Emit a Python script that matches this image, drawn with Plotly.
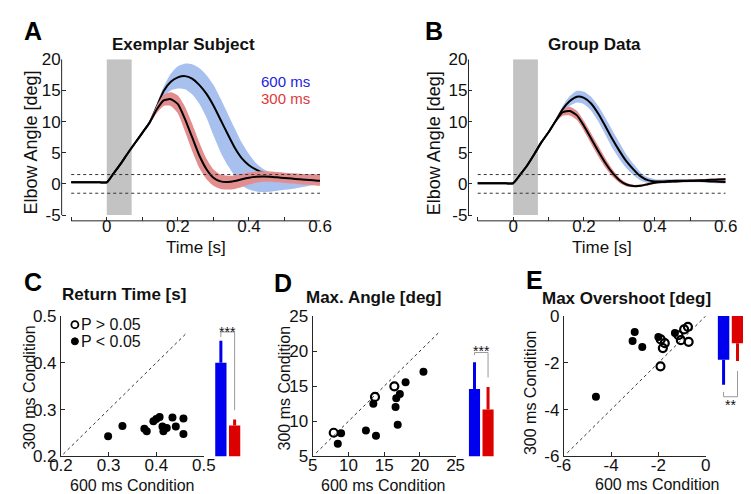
import plotly.graph_objects as go

W, H = 751, 494
FONT = "Liberation Sans, Arial, Helvetica, sans-serif"
INK = "#111111"
AXIS = "#262626"
BLUE_BAND = "#a8c0ee"
RED_BAND = "#e38e8e"
BLUE = "#0000ee"
RED = "#dd0000"
BLUE_TXT = "#2323e0"
RED_TXT = "#dc3a3a"
BRACKET = "#9a9a9a"

# ---------------- Panel A / B: elbow angle time courses ----------------
time_s = [-0.10, -0.08, -0.06, -0.04, -0.02, 0.00, 0.02, 0.04, 0.06, 0.08,
          0.10, 0.12, 0.14, 0.16, 0.18, 0.20, 0.22, 0.24, 0.26, 0.28,
          0.30, 0.32, 0.34, 0.36, 0.38, 0.40, 0.42, 0.44, 0.46, 0.48,
          0.50, 0.52, 0.54, 0.56, 0.58, 0.60]

# Exemplar subject, 600 ms condition
a600_mean = [0.25, 0.25, 0.25, 0.25, 0.25, 0.25, 1.75, 3.3, 5.0, 6.6,
             8.2, 9.8, 12.3, 14.9, 16.4, 17.1, 17.3, 16.9, 15.9, 14.5,
             12.6, 10.3, 8.0, 5.8, 4.1, 3.0, 2.3, 1.8, 1.5, 1.3,
             1.1, 1.0, 0.9, 0.8, 0.7, 0.6]
a600_upper = [0.25, 0.25, 0.25, 0.25, 0.25, 0.25, 1.75, 3.3, 5.0, 6.6,
              8.2, 10.0, 12.8, 15.6, 17.7, 18.9, 19.3, 19.2, 18.6, 17.5,
              15.9, 13.7, 11.3, 8.9, 6.6, 4.8, 3.3, 2.4, 1.9, 1.6,
              1.5, 1.5, 1.5, 1.5, 1.5, 1.5]
a600_lower = [0.25, 0.25, 0.25, 0.25, 0.25, 0.25, 1.75, 3.3, 5.0, 6.6,
              8.2, 9.6, 11.8, 14.0, 15.0, 15.3, 15.2, 14.4, 12.9, 10.7,
              7.8, 5.1, 3.0, 1.3, -0.2, -0.9, -1.2, -1.3, -1.25, -1.1,
              -0.95, -0.8, -0.6, -0.4, -0.2, -0.1]
# Exemplar subject, 300 ms condition
a300_mean = [0.25, 0.25, 0.25, 0.25, 0.25, 0.25, 1.75, 3.3, 5.0, 6.6,
             8.2, 9.8, 11.9, 13.4, 13.6, 12.8, 10.4, 7.5, 4.6, 2.4,
             1.0, 0.4, 0.3, 0.45, 0.75, 1.0, 1.15, 1.2, 1.15, 1.05,
             0.95, 0.85, 0.75, 0.65, 0.6, 0.5]
a300_upper = [0.25, 0.25, 0.25, 0.25, 0.25, 0.25, 1.75, 3.3, 5.0, 6.6,
              8.2, 10.0, 12.5, 14.3, 14.7, 14.2, 12.4, 9.7, 6.7, 4.1,
              2.3, 1.5, 1.3, 1.4, 1.6, 1.85, 2.0, 2.05, 2.0, 1.9,
              1.8, 1.7, 1.65, 1.6, 1.55, 1.5]
a300_lower = [0.25, 0.25, 0.25, 0.25, 0.25, 0.25, 1.75, 3.3, 5.0, 6.6,
              8.2, 9.6, 11.3, 12.5, 12.5, 11.3, 8.4, 5.3, 2.6, 0.8,
              -0.3, -0.8, -0.9, -0.8, -0.5, -0.1, 0.2, 0.35, 0.35, 0.25,
              0.15, 0.05, -0.05, -0.15, -0.2, -0.3]

# Group data
b600_mean = [0.1, 0.1, 0.1, 0.1, 0.1, 0.1, 1.5, 3.0, 4.8, 6.7,
             8.3, 10.1, 12.0, 13.3, 14.0, 13.8, 12.9, 11.3, 9.3, 7.2,
             5.3, 3.6, 2.3, 1.2, 0.6, 0.4, 0.4, 0.45, 0.5, 0.5,
             0.5, 0.5, 0.45, 0.4, 0.35, 0.3]
b600_sd = [0, 0, 0, 0, 0, 0, 0, 0, 0, 0,
           0, 0.2, 0.5, 0.8, 0.95, 1.0, 1.1, 1.25, 1.35, 1.4,
           1.3, 1.1, 0.9, 0.65, 0.45, 0.35, 0.3, 0.28, 0.26, 0.25,
           0.25, 0.25, 0.25, 0.25, 0.25, 0.25]
b300_mean = [0.1, 0.1, 0.1, 0.1, 0.1, 0.1, 1.5, 3.0, 4.8, 6.7,
             8.3, 10.1, 11.5, 11.7, 11.0, 9.3, 7.3, 5.3, 3.4, 1.8,
             0.6, -0.1, -0.35, -0.3, -0.05, 0.2, 0.3, 0.35, 0.4, 0.45,
             0.5, 0.55, 0.6, 0.65, 0.7, 0.75]
b300_sd = [0, 0, 0, 0, 0, 0, 0, 0, 0, 0,
           0, 0.2, 0.55, 0.7, 0.75, 0.8, 0.85, 0.85, 0.75, 0.6,
           0.4, 0.3, 0.2, 0.2, 0.2, 0.2, 0.2, 0.2, 0.2, 0.2,
           0.2, 0.2, 0.2, 0.2, 0.2, 0.2]

stim_window = [0.0, 0.07]
threshold = 1.5
t_ticks = [-0.1, 0.0, 0.1, 0.2, 0.3, 0.4, 0.5, 0.6]
t_labels = ["", "0", "", "0.2", "", "0.4", "", "0.6"]
angle_ticks = [-5, 0, 5, 10, 15, 20]
angle_labels = ["-5", "0", "5", "10", "15", "20"]

# ---------------- Panel C: return time ----------------
c_600 = [0.299, 0.329, 0.375, 0.380, 0.394, 0.400, 0.407, 0.413, 0.415, 0.422, 0.434, 0.441, 0.457, 0.457]
c_300 = [0.243, 0.265, 0.259, 0.254, 0.275, 0.280, 0.284, 0.264, 0.254, 0.261, 0.283, 0.264, 0.281, 0.248]
c_sig = [1, 1, 1, 1, 1, 1, 1, 1, 1, 1, 1, 1, 1, 1]
c_bar_mean = [0.400, 0.266]
c_bar_err = [0.047, 0.013]
c_ticks = [0.2, 0.3, 0.4, 0.5]
c_labels = ["0.2", "0.3", "0.4", "0.5"]

# ---------------- Panel D: max angle ----------------
d_600 = [7.95, 8.98, 8.52, 12.45, 13.86, 13.72, 13.49, 16.9, 16.43, 16.6, 16.7, 17.2, 18.0, 20.5]
d_300 = [8.37, 8.3, 6.82, 8.69, 7.93, 13.47, 12.52, 9.5, 14.98, 12.05, 13.28, 13.88, 15.57, 17.05]
d_sig = [0, 1, 1, 1, 1, 0, 1, 1, 0, 1, 1, 1, 1, 1]
d_bar_mean = [14.6, 11.7]
d_bar_err = [3.8, 3.2]
d_ticks = [5, 10, 15, 20, 25]
d_labels = ["5", "10", "15", "20", "25"]

# ---------------- Panel E: max overshoot ----------------
e_600 = [-4.64, -3.0, -3.09, -2.68, -2.0, -1.3, -1.9, -1.73, -1.81, -1.91, -1.15, -1.05, -0.91, -0.75, -0.72]
e_300 = [-3.45, -0.68, -1.07, -1.32, -0.9, -0.72, -1.0, -1.16, -1.37, -2.15, -0.82, -1.03, -0.57, -0.46, -1.1]
e_sig = [1, 1, 1, 1, 1, 1, 0, 0, 0, 0, 0, 0, 0, 0, 0]
e_bar_mean = [-1.87, -1.16]
e_bar_err = [1.07, 0.76]
e_ticks = [-6, -4, -2, 0]
e_labels = ["-6", "-4", "-2", "0"]


def px_x(x):
    return x / W


def px_y(y):
    return 1 - y / H


fig = go.Figure()
SPL = dict(shape="spline", smoothing=0.6)


def add_band(lo, hi, color, xa, ya):
    fig.add_trace(go.Scatter(x=time_s, y=lo, mode="lines", line=dict(width=0, **SPL),
                             hoverinfo="skip", xaxis=xa, yaxis=ya))
    fig.add_trace(go.Scatter(x=time_s, y=hi, mode="lines", line=dict(width=0, **SPL),
                             fill="tonexty", fillcolor=color, hoverinfo="skip", xaxis=xa, yaxis=ya))


def add_mean(y, xa, ya):
    fig.add_trace(go.Scatter(x=time_s, y=y, mode="lines", line=dict(color="black", width=2, **SPL),
                             xaxis=xa, yaxis=ya))


# Panel A (600 ms mean drawn before the red band, so the band covers its tail)
add_band(a600_lower, a600_upper, BLUE_BAND, "x", "y")
add_mean(a600_mean, "x", "y")
add_band(a300_lower, a300_upper, RED_BAND, "x", "y")
add_mean(a300_mean, "x", "y")

# Panel B
add_band([m - s for m, s in zip(b600_mean, b600_sd)], [m + s for m, s in zip(b600_mean, b600_sd)], BLUE_BAND, "x2", "y2")
add_band([m - s for m, s in zip(b300_mean, b300_sd)], [m + s for m, s in zip(b300_mean, b300_sd)], RED_BAND, "x2", "y2")
add_mean(b600_mean, "x2", "y2")
add_mean(b300_mean, "x2", "y2")


def add_scatter(xs, ys, sig, xa, ya):
    fx = [x for x, s in zip(xs, sig) if s]
    fy = [y for y, s in zip(ys, sig) if s]
    ox = [x for x, s in zip(xs, sig) if not s]
    oy = [y for y, s in zip(ys, sig) if not s]
    fig.add_trace(go.Scatter(x=fx, y=fy, mode="markers", marker=dict(symbol="circle", size=8, color="black"),
                             xaxis=xa, yaxis=ya))
    if ox:
        fig.add_trace(go.Scatter(x=ox, y=oy, mode="markers",
                                 marker=dict(symbol="circle-open", size=8, color="black", line=dict(width=2.2, color="black")),
                                 xaxis=xa, yaxis=ya))


add_scatter(c_600, c_300, c_sig, "x3", "y3")
add_scatter(d_600, d_300, d_sig, "x5", "y5")
add_scatter(e_600, e_300, e_sig, "x7", "y7")


def add_bars(means, errs, base, xa, ya, down=False):
    for i, (m, e, col) in enumerate(zip(means, errs, [BLUE, RED])):
        err = dict(type="data", symmetric=False, color=col, thickness=3, width=0)
        if down:
            err.update(array=[0], arrayminus=[e])
        else:
            err.update(array=[e], arrayminus=[0])
        fig.add_trace(go.Bar(x=[i], y=[m - base], base=base, width=0.82,
                             marker=dict(color=col, line=dict(width=0)), error_y=err,
                             xaxis=xa, yaxis=ya))


add_bars(c_bar_mean, c_bar_err, c_ticks[0], "x4", "y4")
add_bars(d_bar_mean, d_bar_err, d_ticks[0], "x6", "y6")
add_bars(e_bar_mean, e_bar_err, 0, "x8", "y8", down=True)

# ---------------- layout ----------------
base_ax = dict(showgrid=False, zeroline=False, ticks="inside", ticklen=4, tickwidth=1,
               tickcolor=AXIS, linecolor=AXIS, linewidth=1, fixedrange=True,
               tickfont=dict(family=FONT, size=17, color=INK))

top_y = [px_y(212), px_y(44)]
row2_y = [px_y(457), px_y(311)]
SO = -7

layout_axes = dict(
    xaxis=dict(base_ax, domain=[px_x(43), px_x(310)], range=[-0.127, 0.6], tickvals=t_ticks,
               ticktext=t_labels, showline=False, anchor="y", ticklabelstandoff=SO),
    yaxis=dict(base_ax, domain=top_y, range=[-5.93, 20], tickvals=angle_ticks, ticktext=angle_labels,
               showline=False, anchor="x"),
    xaxis2=dict(base_ax, domain=[px_x(463.3), px_x(729)], range=[-0.126, 0.6], tickvals=t_ticks,
                ticktext=t_labels, showline=False, anchor="y2", ticklabelstandoff=SO),
    yaxis2=dict(base_ax, domain=top_y, range=[-5.93, 20], tickvals=angle_ticks, ticktext=angle_labels,
                showline=False, anchor="x2"),
    xaxis3=dict(base_ax, domain=[px_x(42.3), px_x(190)], range=[0.2, 0.5], tickvals=c_ticks,
                ticktext=c_labels, showline=True, anchor="y3", ticklabelstandoff=SO),
    yaxis3=dict(base_ax, domain=row2_y, range=[0.2, 0.5], tickvals=c_ticks, ticktext=c_labels,
                showline=True, anchor="x3"),
    xaxis4=dict(domain=[px_x(200.4), px_x(228.8)], range=[-0.5, 1.5], visible=False, anchor="y4", fixedrange=True),
    yaxis4=dict(domain=row2_y, range=[0.2, 0.5], visible=False, anchor="x4", fixedrange=True),
    xaxis5=dict(base_ax, domain=[px_x(302.3), px_x(450)], range=[5, 25], tickvals=d_ticks,
                ticktext=d_labels, showline=True, anchor="y5", ticklabelstandoff=SO),
    yaxis5=dict(base_ax, domain=row2_y, range=[5, 25], tickvals=d_ticks, ticktext=d_labels,
                showline=True, anchor="x5"),
    xaxis6=dict(domain=[px_x(462.5), px_x(490.5)], range=[-0.5, 1.5], visible=False, anchor="y6", fixedrange=True),
    yaxis6=dict(domain=row2_y, range=[5, 25], visible=False, anchor="x6", fixedrange=True),
    xaxis7=dict(base_ax, domain=[px_x(561.7), px_x(708.3)], range=[-6, 0], tickvals=e_ticks,
                ticktext=e_labels, showline=True, anchor="y7", ticklabelstandoff=SO),
    yaxis7=dict(base_ax, domain=row2_y, range=[-6, 0], tickvals=e_ticks, ticktext=e_labels,
                showline=True, anchor="x7"),
    xaxis8=dict(domain=[px_x(719.6), px_x(748.4)], range=[-0.5, 1.5], visible=False, anchor="y8", fixedrange=True),
    yaxis8=dict(domain=row2_y, range=[-6, 0], visible=False, anchor="x8", fixedrange=True),
)

shapes = []


def seg(x0, y0, x1, y1, xref, yref, color=AXIS, width=1, dash="solid", layer="above"):
    shapes.append(dict(type="line", x0=x0, y0=y0, x1=x1, y1=y1, xref=xref, yref=yref,
                       line=dict(color=color, width=width, dash=dash), layer=layer))


for xa, ya in [("x", "y"), ("x2", "y2")]:
    shapes.append(dict(type="rect", xref=xa, yref=ya, x0=stim_window[0], x1=stim_window[1],
                       y0=angle_ticks[0], y1=angle_ticks[-1], fillcolor="#c3c3c3",
                       line=dict(width=0), layer="below"))
    for lvl in (threshold, -threshold):
        seg(t_ticks[0], lvl, t_ticks[-1], lvl, xa, ya, color="#333333", width=1, dash="dot")
    seg(t_ticks[0], 0, t_ticks[-1], 0, xa, ya + " domain")
    seg(0, angle_ticks[0], 0, angle_ticks[-1], xa + " domain", ya)

# identity lines
seg(0.205, 0.205, 0.465, 0.465, "x3", "y3", color="#333333", dash="3px,3px", layer="below")
seg(5.5, 5.5, 22.8, 22.8, "x5", "y5", color="#333333", dash="3px,3px", layer="below")
seg(-5.85, -5.85, 0, 0, "x7", "y7", color="#333333", dash="3px,3px", layer="below")

# significance brackets
seg(0, 0.466, 1, 0.466, "x4", "y4", color=BRACKET)
seg(0, 0.466, 0, 0.455, "x4", "y4", color=BRACKET)
seg(1, 0.466, 1, 0.299, "x4", "y4", color=BRACKET)
seg(0, 19.8, 1, 19.8, "x6", "y6", color=BRACKET)
seg(0, 19.8, 0, 19.45, "x6", "y6", color=BRACKET)
seg(1, 19.8, 1, 16.25, "x6", "y6", color=BRACKET)
seg(0, -3.45, 1, -3.45, "x8", "y8", color=BRACKET)
seg(0, -3.45, 0, -3.24, "x8", "y8", color=BRACKET)
seg(1, -3.45, 1, -2.35, "x8", "y8", color=BRACKET)

# legend glyphs in panel C
for cy, fill, lw in [(320, "white", 1.8), (337.3, "black", 1)]:
    shapes.append(dict(type="circle", xref="paper", yref="paper", xsizemode="pixel", ysizemode="pixel",
                       xanchor=px_x(56.7), yanchor=px_y(cy), x0=-3.5, x1=3.5, y0=-3.5, y1=3.5,
                       fillcolor=fill, line=dict(color="black", width=lw), layer="above"))

annotations = []


def ann(text, x, y, size=16, bold=False, color=INK, xanchor="center", yanchor="middle", angle=0):
    annotations.append(dict(text=f"<b>{text}</b>" if bold else text, x=px_x(x), y=px_y(y),
                            xref="paper", yref="paper", showarrow=False,
                            font=dict(family=FONT, size=size, color=color),
                            xanchor=xanchor, yanchor=yanchor, textangle=angle))


for letter, x, y in [("A", 13, 15), ("B", 428, 15), ("C", 13, 276), ("D", 272, 277), ("E", 532, 274)]:
    ann(letter, x, y, size=25, bold=True, color="black")

ann("Exemplar Subject", 169, 29, 17, bold=True)
ann("Group Data", 593, 29, 17, bold=True)
ann("Return Time [s]", 107, 289, 17, bold=True)
ann("Max. Angle [deg]", 365, 292, 17, bold=True)
ann("Max Overshoot [deg]", 627, 293, 17, bold=True)

ann("600 ms", 247, 67, 15, color=BLUE_TXT, xanchor="left")
ann("300 ms", 247, 85, 15, color=RED_TXT, xanchor="left")

ann("Elbow Angle [deg]", 11, 131, 18, angle=-90)
ann("Elbow Angle [deg]", 428, 131, 18, angle=-90)
ann("Time [s]", 181.5, 240, 17)
ann("Time [s]", 601, 240, 17)

ann("300 ms Condition", 10, 385, 16, angle=-90)
ann("600 ms Condition", 116, 487, 16)
ann("300 ms Condition", 273, 386, 16, angle=-90)
ann("600 ms Condition", 376, 487, 16)
ann("300 ms Condition", 528, 391, 16, angle=-90)
ann("600 ms Condition", 659, 486, 16)

ann("P &gt; 0.05", 61, 320, 16, xanchor="left")
ann("P &lt; 0.05", 61, 337, 16, xanchor="left")

for xa, ya, yv, stars, shift in [("x4", "y4", 0.466, "***", 0), ("x6", "y6", 19.8, "***", 2),
                                 ("x8", "y8", -3.45, "**", -8)]:
    annotations.append(dict(text=stars, x=0.5, y=yv, xref=xa, yref=ya, showarrow=False,
                            font=dict(family=FONT, size=14, color=INK), xanchor="center",
                            yanchor="middle", yshift=shift))

fig.update_layout(
    width=W, height=H, margin=dict(l=0, r=0, t=0, b=0),
    paper_bgcolor="white", plot_bgcolor="white",
    showlegend=False, barmode="overlay",
    font=dict(family=FONT, color=INK),
    shapes=shapes, annotations=annotations,
    **layout_axes,
)

fig.write_html("out.html")
